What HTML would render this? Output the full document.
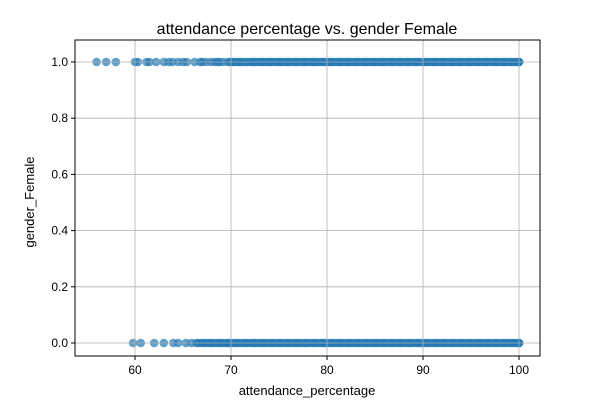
<!DOCTYPE html>
<html><head><meta charset="utf-8"><style>
body{margin:0;background:#fff;}
svg{display:block;font-family:"Liberation Sans","DejaVu Sans",sans-serif;}
</style></head><body>
<svg id="chart" width="600" height="400">
<rect width="600" height="400" fill="#fff"/>
<g id="points"></g>
<g id="grid"></g>
<rect x="75" y="40" width="465" height="316" fill="none" stroke="#000" stroke-width="1"/>
<g id="axes"></g>
<text x="307" y="40" dy="-6" text-anchor="middle" font-size="16">attendance percentage vs. gender Female</text>
<text x="307" y="395" text-anchor="middle" font-size="13">attendance_percentage</text>
<text transform="translate(34,202) rotate(-90)" text-anchor="middle" font-size="13">gender_Female</text>
</svg>
<script>
const xTicks=[60,70,80,90,100];
const yTicks=[0.0,0.2,0.4,0.6,0.8,1.0];
const femaleAttendance=[56,57,58,60,60.3,61.2,61.5,62.2,63,63.5,63.9,64.5,65,65.4,66.2,66.8,67,67.4,67.9,68.3,68.8,69.2,69.7,70.1,70.6,71,71.5,72,72.4,72.9,73.3,73.8,74.2,74.7,75.1,75.6,76,76.5,76.9,77.4,77.8,78.3,78.7,79.2,79.6,80.1,80.5,81,81.4,81.9,82.3,82.8,83.2,83.7,84.1,84.6,85,85.5,85.9,86.4,86.8,87.3,87.7,88.2,88.6,89.1,89.5,90,90.4,90.9,91.3,91.8,92.2,92.7,93.1,93.6,94,94.5,94.9,95.4,95.8,96.3,96.7,97.2,97.6,98.1,98.5,99,99.4,99.8,100,
68.6,69.9,70.3,70.8,71.2,71.7,72.2,72.6,73.1,73.5,74,74.4,74.9,75.3,75.8,76.2,76.7,77.1,77.6,78,78.5,78.9,79.4,79.8,80.3,80.7,81.2,81.6,82.1,82.5,83,83.4,83.9,84.3,84.8,85.2,85.7,86.1,86.6,87,87.5,87.9,88.4,88.8,89.3,89.7,90.2,90.6,91.1,91.5,92,92.4,92.9,93.3,93.8,94.2,94.7,95.1,95.6,96,96.5,96.9,97.4,97.8,98.3,98.7,99.2,99.6,100,100];
const maleAttendance=[59.8,60.6,62,63,64,64.5,65.3,65.9,66.4,66.9,67.3,67.8,68.2,68.7,69.1,69.6,70,70.5,70.9,71.4,71.8,72.3,72.7,73.2,73.6,74.1,74.5,75,75.4,75.9,76.3,76.8,77.2,77.7,78.1,78.6,79,79.5,79.9,80.4,80.8,81.3,81.7,82.2,82.6,83.1,83.5,84,84.4,84.9,85.3,85.8,86.2,86.7,87.1,87.6,88,88.5,88.9,89.4,89.8,90.3,90.7,91.2,91.6,92.1,92.5,93,93.4,93.9,94.3,94.8,95.2,95.7,96.1,96.6,97,97.5,97.9,98.4,98.8,99.3,99.7,100,
66.6,67.1,67.6,68,68.5,68.9,69.4,69.8,70.3,70.7,71.2,71.6,72.1,72.5,73,73.4,73.9,74.3,74.8,75.2,75.7,76.1,76.6,77,77.5,77.9,78.4,78.8,79.3,79.7,80.2,80.6,81.1,81.5,82,82.4,82.9,83.3,83.8,84.2,84.7,85.1,85.6,86,86.5,86.9,87.4,87.8,88.3,88.7,89.2,89.6,90.1,90.5,91,91.4,91.9,92.3,92.8,93.2,93.7,94.1,94.6,95,95.5,95.9,96.4,96.8,97.3,97.7,98.2,98.6,99.1,99.5,100,100];
const NS="http://www.w3.org/2000/svg";
const L=75,R=540,T=40,B=356;
function xs(v){return 135+(v-60)*9.6;}
function ys(v){return 343-v*281;}
const pts=document.getElementById('points');
function addPts(arr,yv,name){
  arr.forEach(v=>{
    const c=document.createElementNS(NS,'circle');
    c.setAttribute('cx',xs(v));c.setAttribute('cy',ys(yv));c.setAttribute('r',4.3);
    c.setAttribute('fill','#1f77b4');c.setAttribute('fill-opacity','0.7');
    
    
    pts.appendChild(c);
  });
}
addPts(femaleAttendance,1,'female-point');
addPts(maleAttendance,0,'male-point');
const grid=document.getElementById('grid'),axes=document.getElementById('axes');
function line(p,x1,y1,x2,y2,st,name){const l=document.createElementNS(NS,'line');l.setAttribute('x1',x1);l.setAttribute('y1',y1);l.setAttribute('x2',x2);l.setAttribute('y2',y2);l.setAttribute('stroke',st);l.setAttribute('stroke-width',name.indexOf('grid')>=0?0.8:1);


p.appendChild(l);}
function text(x,y,s,anchor,name){const t=document.createElementNS(NS,'text');t.setAttribute('x',x);t.setAttribute('y',y);t.setAttribute('text-anchor',anchor);t.setAttribute('font-size','12');t.textContent=s;


axes.appendChild(t);}
xTicks.forEach(v=>{const x=xs(v);line(grid,x,T,x,B,'#b0b0b0','x-grid-line');line(axes,x,B,x,B+4,'#000','x-tick');text(x,B+18,String(v),'middle','x-tick-label');});
yTicks.forEach(v=>{const y=ys(v);line(grid,L,y,R,y,'#b0b0b0','y-grid-line');line(axes,L-4,y,L,y,'#000','y-tick');text(L-7,y+4,v.toFixed(1),'end','y-tick-label');});
</script>
</body></html>
